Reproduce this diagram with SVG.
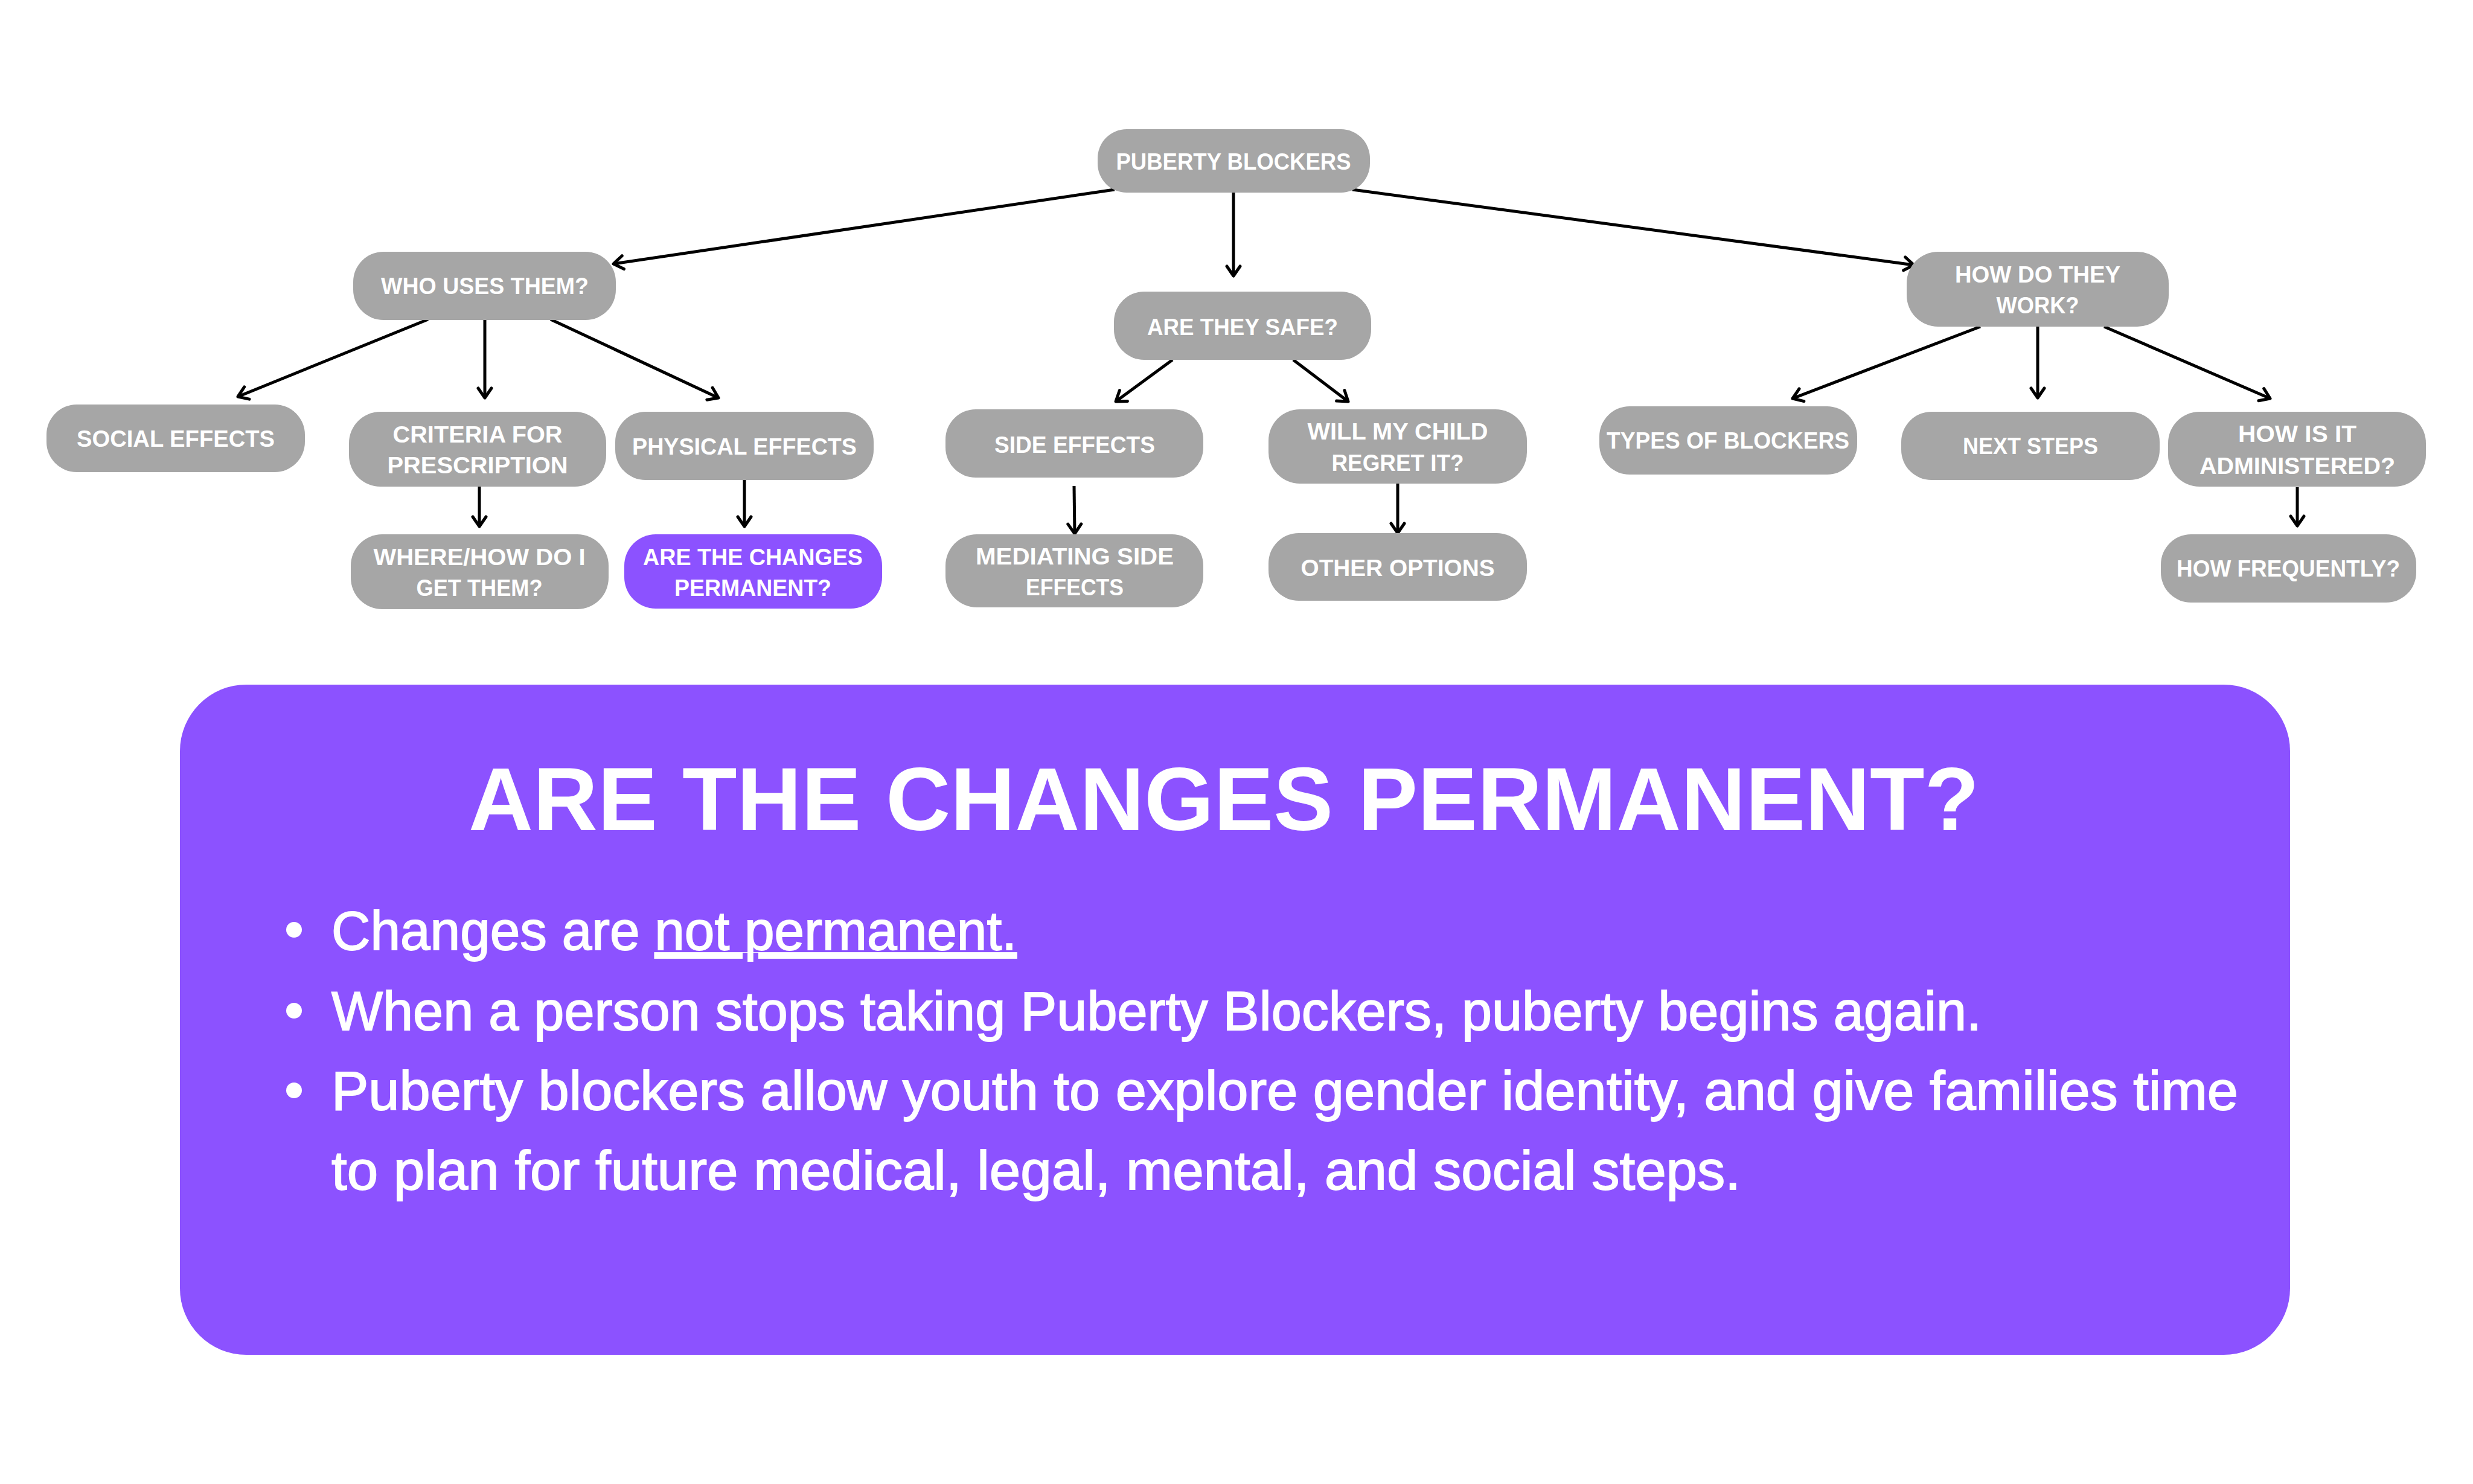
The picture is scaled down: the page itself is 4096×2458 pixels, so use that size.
<svg xmlns="http://www.w3.org/2000/svg" width="4096" height="2458" viewBox="0 0 4096 2458">
<style>
.node rect{fill:#A6A6A6}
.node.hl rect{fill:#8C52FF}
.node text{font-family:"Liberation Sans",Arial,sans-serif;font-weight:bold;font-size:39px;fill:#FFFFFF;text-anchor:middle}
.conn line{stroke:#000000;stroke-width:5;fill:none;marker-end:url(#arrow)}
.body{font-family:"Liberation Sans",Arial,sans-serif;font-weight:normal;font-size:91px;fill:#FFFFFF;stroke:#FFFFFF;stroke-width:1.8}
.title{font-family:"Liberation Sans",Arial,sans-serif;font-weight:bold;font-size:148px;fill:#FFFFFF;text-anchor:middle}
.dot{fill:#FFFFFF}
</style>
<defs>
<marker id="arrow" viewBox="-30 -20 40 40" refX="0" refY="0" markerWidth="40" markerHeight="40" markerUnits="userSpaceOnUse" orient="auto">
<path d="M -16 -11 L 0 0 L -16 11" fill="none" stroke="#000000" stroke-width="5" stroke-linecap="round" stroke-linejoin="round"/>
</marker>
</defs>
<rect x="0" y="0" width="4096" height="2458" fill="#FFFFFF"/>
<g id="connectors" class="conn">
<line x1="1846" y1="314" x2="1016" y2="437"/>
<line x1="2043" y1="319" x2="2043" y2="457"/>
<line x1="2240" y1="314" x2="3170" y2="439"/>
<line x1="709" y1="529" x2="394" y2="657"/>
<line x1="803" y1="530" x2="803" y2="659"/>
<line x1="912" y1="529" x2="1190" y2="659"/>
<line x1="794" y1="806" x2="794" y2="872"/>
<line x1="1233" y1="795" x2="1233" y2="872"/>
<line x1="1942" y1="596" x2="1848" y2="665"/>
<line x1="2142" y1="596" x2="2233" y2="665"/>
<line x1="1779" y1="805" x2="1780" y2="884"/>
<line x1="2315" y1="801" x2="2315" y2="883"/>
<line x1="3280" y1="541" x2="2969" y2="660"/>
<line x1="3375" y1="541" x2="3375" y2="659"/>
<line x1="3485" y1="541" x2="3760" y2="660"/>
<line x1="3805" y1="807" x2="3805" y2="871"/>
</g>
<g id="n-root" class="node"><rect x="1818" y="214" width="451" height="105" rx="48"/><text x="2043" y="281" textLength="389" lengthAdjust="spacingAndGlyphs">PUBERTY BLOCKERS</text></g>
<g id="n-who" class="node"><rect x="585" y="417" width="435" height="113" rx="50"/><text x="803" y="487" textLength="344" lengthAdjust="spacingAndGlyphs">WHO USES THEM?</text></g>
<g id="n-social" class="node"><rect x="77" y="670" width="428" height="112" rx="50"/><text x="291" y="740" textLength="328" lengthAdjust="spacingAndGlyphs">SOCIAL EFFECTS</text></g>
<g id="n-criteria" class="node"><rect x="578" y="682" width="426" height="124" rx="52"/><text x="791" y="733" textLength="281" lengthAdjust="spacingAndGlyphs">CRITERIA FOR</text><text x="791" y="784" textLength="299" lengthAdjust="spacingAndGlyphs">PRESCRIPTION</text></g>
<g id="n-physical" class="node"><rect x="1019" y="682" width="428" height="113" rx="50"/><text x="1233" y="753" textLength="372" lengthAdjust="spacingAndGlyphs">PHYSICAL EFFECTS</text></g>
<g id="n-where" class="node"><rect x="581" y="885" width="427" height="124" rx="52"/><text x="794" y="936" textLength="351" lengthAdjust="spacingAndGlyphs">WHERE/HOW DO I</text><text x="794" y="987" textLength="209" lengthAdjust="spacingAndGlyphs">GET THEM?</text></g>
<g id="n-permanent" class="node hl"><rect x="1034" y="885" width="427" height="123" rx="52"/><text x="1247" y="936" textLength="364" lengthAdjust="spacingAndGlyphs">ARE THE CHANGES</text><text x="1247" y="987" textLength="260" lengthAdjust="spacingAndGlyphs">PERMANENT?</text></g>
<g id="n-safe" class="node"><rect x="1845" y="483" width="426" height="113" rx="50"/><text x="2058" y="555" textLength="316" lengthAdjust="spacingAndGlyphs">ARE THEY SAFE?</text></g>
<g id="n-side" class="node"><rect x="1566" y="678" width="427" height="113" rx="50"/><text x="1780" y="750" textLength="266" lengthAdjust="spacingAndGlyphs">SIDE EFFECTS</text></g>
<g id="n-regret" class="node"><rect x="2101" y="678" width="428" height="123" rx="52"/><text x="2315" y="728" textLength="299" lengthAdjust="spacingAndGlyphs">WILL MY CHILD</text><text x="2315" y="780" textLength="219" lengthAdjust="spacingAndGlyphs">REGRET IT?</text></g>
<g id="n-mediating" class="node"><rect x="1566" y="885" width="427" height="121" rx="52"/><text x="1780" y="935" textLength="328" lengthAdjust="spacingAndGlyphs">MEDIATING SIDE</text><text x="1780" y="986" textLength="162" lengthAdjust="spacingAndGlyphs">EFFECTS</text></g>
<g id="n-other" class="node"><rect x="2101" y="883" width="428" height="112" rx="50"/><text x="2315" y="954" textLength="321" lengthAdjust="spacingAndGlyphs">OTHER OPTIONS</text></g>
<g id="n-how" class="node"><rect x="3158" y="417" width="434" height="124" rx="52"/><text x="3375" y="468" textLength="274" lengthAdjust="spacingAndGlyphs">HOW DO THEY</text><text x="3375" y="519" textLength="137" lengthAdjust="spacingAndGlyphs">WORK?</text></g>
<g id="n-types" class="node"><rect x="2649" y="673" width="427" height="113" rx="50"/><text x="2862" y="743" textLength="402" lengthAdjust="spacingAndGlyphs">TYPES OF BLOCKERS</text></g>
<g id="n-next" class="node"><rect x="3149" y="682" width="428" height="113" rx="50"/><text x="3363" y="752" textLength="224" lengthAdjust="spacingAndGlyphs">NEXT STEPS</text></g>
<g id="n-admin" class="node"><rect x="3591" y="682" width="427" height="124" rx="52"/><text x="3805" y="732" textLength="196" lengthAdjust="spacingAndGlyphs">HOW IS IT</text><text x="3805" y="785" textLength="324" lengthAdjust="spacingAndGlyphs">ADMINISTERED?</text></g>
<g id="n-freq" class="node"><rect x="3579" y="885" width="423" height="113" rx="50"/><text x="3790" y="955" textLength="370" lengthAdjust="spacingAndGlyphs">HOW FREQUENTLY?</text></g>
<g id="panel">
<rect x="298" y="1134" width="3495" height="1110" rx="110" fill="#8C52FF"/>
<text class="title" x="2027" y="1375" textLength="2502" lengthAdjust="spacingAndGlyphs">ARE THE CHANGES PERMANENT?</text>
<circle class="dot" cx="487" cy="1540" r="13"/>
<circle class="dot" cx="487" cy="1674" r="13"/>
<circle class="dot" cx="487" cy="1806" r="13"/>
<text class="body" x="549" y="1573" textLength="1135" lengthAdjust="spacingAndGlyphs">Changes are <tspan text-decoration="underline">not permanent.</tspan></text>
<text class="body" x="549" y="1706" textLength="2733" lengthAdjust="spacingAndGlyphs">When a person stops taking Puberty Blockers, puberty begins again.</text>
<text class="body" x="549" y="1838" textLength="3158" lengthAdjust="spacingAndGlyphs">Puberty blockers allow youth to explore gender identity, and give families time</text>
<text class="body" x="549" y="1970" textLength="2334" lengthAdjust="spacingAndGlyphs">to plan for future medical, legal, mental, and social steps.</text>
</g>
</svg>
